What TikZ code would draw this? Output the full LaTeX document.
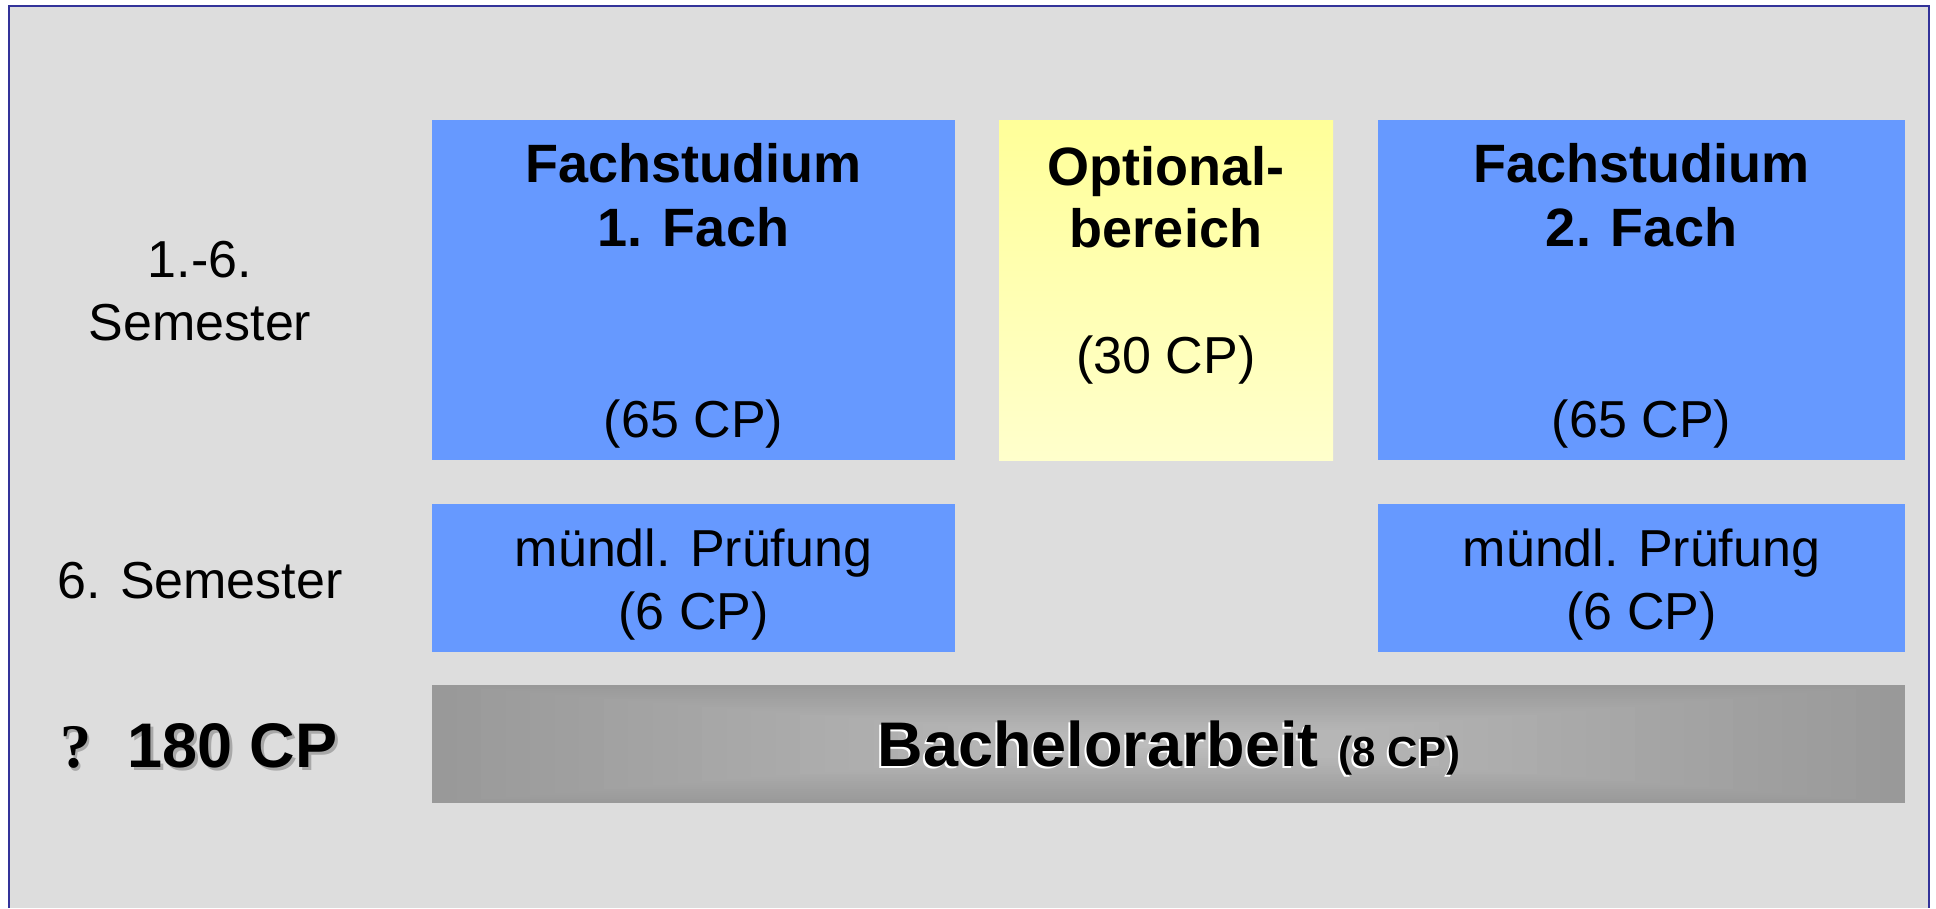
\documentclass[tikz,border=0pt]{standalone}
\usepackage{fontspec}
\setmainfont{Liberation Sans}
\newfontfamily\qfont{Liberation Serif}
\definecolor{pagebg}{HTML}{DDDDDD}
\definecolor{framecol}{HTML}{333399}
\definecolor{boxblue}{HTML}{6699FF}
\definecolor{yelTop}{HTML}{FFFF99}
\definecolor{yelBot}{HTML}{FFFFCC}
\definecolor{bagDark}{HTML}{999999}
\definecolor{bagLight}{HTML}{BDBDBD}
\definecolor{shadowgray}{HTML}{A8A8A8}
\tikzset{
  box/.style={rectangle, inner sep=0pt, outer sep=0pt, anchor=north west},
  bluebox/.style={box, fill=boxblue},
  yellowbox/.style={box, shading=axis, top color=yelTop, bottom color=yelBot},
  regtxt/.style={anchor=base, inner sep=0pt, font=\fontsize{52}{62}\selectfont},
  boldtxt/.style={anchor=base, inner sep=0pt, font=\fontsize{54}{64}\selectfont\bfseries},
  bigtxt/.style={anchor=base, inner sep=0pt, font=\fontsize{63}{70}\selectfont\bfseries},
}
\begin{document}
\begin{tikzpicture}[x=1pt,y=-1pt]
\useasboundingbox (0,0) rectangle (1936,908);
\fill[white] (0,0) rectangle (1936,908);
\fill[pagebg] (9,6) rectangle (1929,908);
\draw[framecol, line width=2.2pt] (9,908) -- (9,6) -- (1929,6) -- (1929,908);

% top row
\node[bluebox, minimum width=523pt, minimum height=340pt] (f1) at (432,120) {};
\node[yellowbox, minimum width=334pt, minimum height=340pt] (opt) at (999,120) {};
\node[bluebox, minimum width=527pt, minimum height=340pt] (f2) at (1378,120) {};

\node[boldtxt] (f1a) at (693.5,182) {Fachstudium};
\node[boldtxt] (f1b) at (693.5,246) {1. Fach};
\node[regtxt] (f1c) at (693.5,437) {(65 CP)};

\node[boldtxt] (opta) at (1166,185) {Optional-};
\node[boldtxt] (optb) at (1166,247) {bereich};
\node[regtxt] (optc) at (1166,373) {(30 CP)};

\node[boldtxt] (f2a) at (1641.5,182) {Fachstudium};
\node[boldtxt] (f2b) at (1641.5,246) {2. Fach};
\node[regtxt] (f2c) at (1641.5,437) {(65 CP)};

% second row
\node[bluebox, minimum width=523pt, minimum height=148pt] (p1) at (432,504) {};
\node[bluebox, minimum width=527pt, minimum height=148pt] (p2) at (1378,504) {};
\node[regtxt] (p1a) at (693.5,566) {mündl. Prüfung};
\node[regtxt] (p1b) at (693.5,629) {(6 CP)};
\node[regtxt] (p2a) at (1641.5,566) {mündl. Prüfung};
\node[regtxt] (p2b) at (1641.5,629) {(6 CP)};

% Bachelorarbeit bar with rectangular gradient
\foreach \i in {0,...,29}{
  \pgfmathsetmacro{\hw}{736.5*(1-\i/30)}
  \pgfmathsetmacro{\hh}{59*(1-\i/30)}
  \pgfmathsetmacro{\p}{100*\i/29}
  \fill[bagLight!\p!bagDark] ({1168.5-\hw},{744-\hh}) rectangle ({1168.5+\hw},{744+\hh});
}
\node[box, minimum width=1473pt, minimum height=118pt] (ba) at (432,685) {};
\node[bigtxt, white] (bashadow) at (1167,768.5) {Bachelorarbeit\hspace{20pt}{\fontsize{42}{46}\selectfont(8 CP)}};
\node[bigtxt] (batxt) at (1169,766) {Bachelorarbeit\hspace{20pt}{\fontsize{42}{46}\selectfont(8 CP)}};

% left labels
\node[regtxt] (s1a) at (200,277) {1.-6.};
\node[regtxt] (s1b) at (200,340) {Semester};
\node[regtxt] (s2) at (200,598) {6. Semester};

\node[anchor=base west, inner sep=0pt, shadowgray, font=\fontsize{62}{66}\selectfont\qfont\bfseries] (qsh) at (62,770) {?};
\node[anchor=base west, inner sep=0pt, font=\fontsize{62}{66}\selectfont\qfont\bfseries] (q) at (60,767) {?};
\node[bigtxt, anchor=base west, shadowgray] (cpsh) at (130,770) {180 CP};
\node[bigtxt, anchor=base west] (cp) at (127,767) {180 CP};
\end{tikzpicture}
\end{document}
